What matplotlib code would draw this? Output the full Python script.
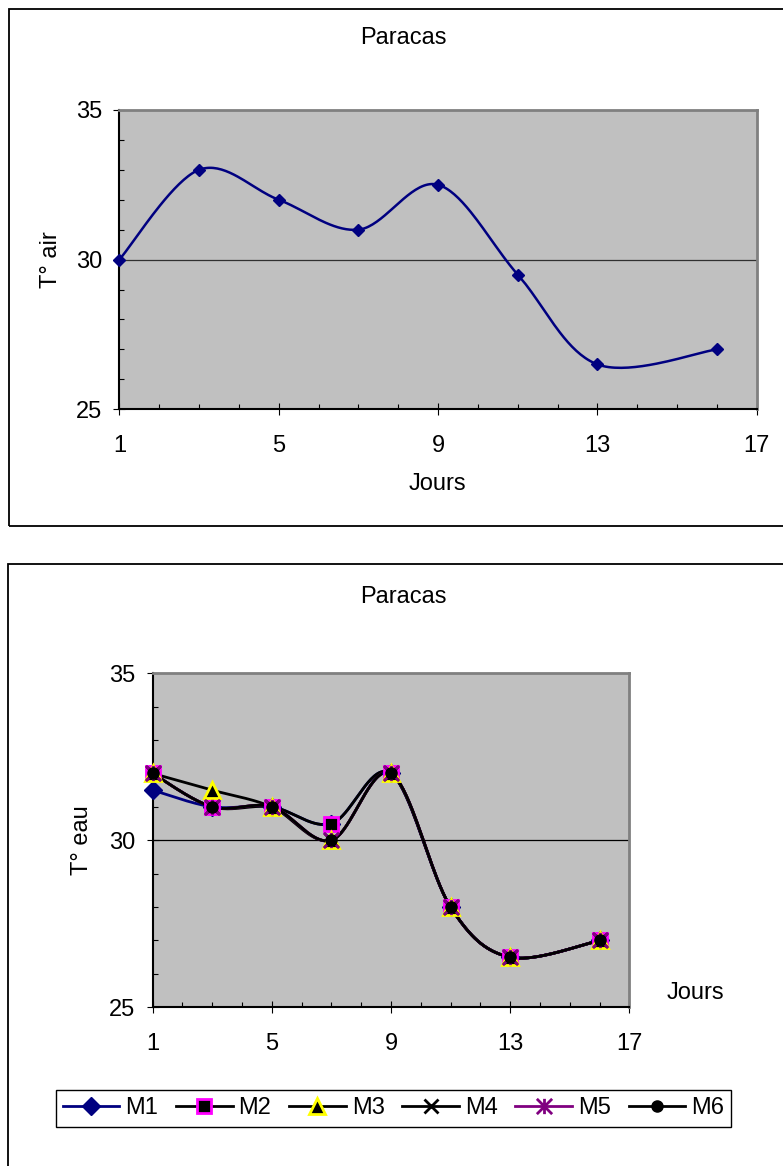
import numpy as np
import matplotlib
matplotlib.use("Agg")
import matplotlib.pyplot as plt
from matplotlib.lines import Line2D
from matplotlib.patches import Rectangle
from matplotlib.path import Path
from matplotlib.ticker import MultipleLocator

plt.rcParams["font.family"] = ["Liberation Sans", "DejaVu Sans"]
plt.rcParams["font.size"] = 17

# data
days = [1, 3, 5, 7, 9, 11, 13, 16]
t_air = [30, 33, 32, 31, 32.5, 29.5, 26.5, 27]
m1 = [31.5, 31, 31, 30.5, 32, 28, 26.5, 27]
m2 = [32, 31, 31, 30.5, 32, 28, 26.5, 27]
m3 = [32, 31.5, 31, 30, 32, 28, 26.5, 27]
m4 = [32, 31, 31, 30, 32, 28, 26.5, 27]
m5 = [32, 31, 31, 30, 32, 28, 26.5, 27]
m6 = [32, 31, 31, 30, 32, 28, 26.5, 27]
series_names = ["M1", "M2", "M3", "M4", "M5", "M6"]
series_values = [m1, m2, m3, m4, m5, m6]
x_ticks = [1, 5, 9, 13, 17]
y_ticks = [25, 30, 35]

GRAY = "#c0c0c0"
NAVY = "#000080"
PURPLE = "#800080"
FS = 17

# asterisk marker like Excel's "star"
ASTERISK = Path(
    [(-1, -1), (1, 1), (-1, 1), (1, -1), (0, -1), (0, 1)],
    [Path.MOVETO, Path.LINETO, Path.MOVETO, Path.LINETO, Path.MOVETO, Path.LINETO],
)

styles = [
    dict(color=NAVY, marker="D", ms=9, mfc=NAVY, mec=NAVY, mew=1),
    dict(color="black", marker="s", ms=10, mfc="black", mec="#ff00ff", mew=2),
    dict(color="black", marker="^", ms=11, mfc="black", mec="#ffff00", mew=2),
    dict(color="black", marker="x", ms=10, mfc="black", mec="black", mew=2),
    dict(color=PURPLE, marker=ASTERISK, ms=11, mfc="none", mec=PURPLE, mew=2),
    dict(color="black", marker="o", ms=8, mfc="black", mec="black", mew=1),
]


def excel_smooth(xs, ys, n=40):
    pts = np.column_stack([xs, ys]).astype(float)
    out = [pts[0]]
    t = np.linspace(0, 1, n)[1:, None]
    for i in range(len(pts) - 1):
        p0 = pts[i - 1] if i > 0 else pts[i]
        p1, p2 = pts[i], pts[i + 1]
        p3 = pts[i + 2] if i + 2 < len(pts) else pts[i + 1]
        c1 = p1 + (p2 - p0) / 6
        c2 = p2 - (p3 - p1) / 6
        seg = (1 - t) ** 3 * p1 + 3 * (1 - t) ** 2 * t * c1 + 3 * (1 - t) * t ** 2 * c2 + t ** 3 * p2
        out.extend(seg)
    return np.array(out)


def style_axes(ax, grid_color):
    ax.set_facecolor(GRAY)
    ax.set_xlim(1, 17)
    ax.set_ylim(25, 35)
    ax.set_xticks(x_ticks)
    ax.set_yticks(y_ticks)
    ax.xaxis.set_minor_locator(MultipleLocator(1))
    ax.yaxis.set_minor_locator(MultipleLocator(1))
    ax.tick_params(which="major", direction="inout", length=9, width=0.8, color="black", labelsize=FS)
    ax.tick_params(axis="x", which="major", pad=14)
    ax.tick_params(axis="y", which="major", pad=8)
    ax.tick_params(which="minor", direction="in", length=3.6, width=0.8, color="black")
    for side in ("left", "bottom"):
        ax.spines[side].set_color("black")
        ax.spines[side].set_linewidth(1.5)
    for side in ("top", "right"):
        ax.spines[side].set_color("#808080")
        ax.spines[side].set_linewidth(2)
    ax.axhline(30, color=grid_color, lw=0.9, zorder=1)


def px(x, y):
    return x / 783, 1 - y / 1166


fig = plt.figure(figsize=(7.83, 11.66), dpi=100)

# outer frames (right / bottom edges fall outside the canvas)
fig.patches.append(Rectangle((0.0115, 0.5489), 1.2, 0.4434, transform=fig.transFigure,
                             fill=False, edgecolor="black", lw=1.3))
fig.patches.append(Rectangle((0.0107, -0.1), 1.2, 0.6166, transform=fig.transFigure,
                             fill=False, edgecolor="black", lw=1.3))

# top chart: air temperature
ax1 = fig.add_axes([0.1524, 0.6490, 0.8141, 0.2567])
style_axes(ax1, "#303030")
curve = excel_smooth(days, t_air)
ax1.plot(curve[:, 0], curve[:, 1], color=NAVY, lw=1.8, zorder=2)
ax1.plot(days, t_air, linestyle="none", marker="D", ms=6.5, color=NAVY, zorder=3, clip_on=False)
fig.text(*px(403, 38), "Paracas", ha="center", va="center", fontsize=FS)
fig.text(*px(437, 484), "Jours", ha="center", va="center", fontsize=FS)
fig.text(*px(51, 260), "T° air", ha="center", va="center", rotation=90, fontsize=FS)

# bottom chart: water temperature
ax2 = fig.add_axes([0.1950, 0.1361, 0.6087, 0.2865])
style_axes(ax2, "black")
handles = []
for name, vals, st in zip(series_names, series_values, styles):
    curve = excel_smooth(days, vals)
    ax2.plot(curve[:, 0], curve[:, 1], color=st["color"], lw=2, zorder=2)
    ax2.plot(days, vals, linestyle="none", marker=st["marker"], ms=st["ms"],
             mfc=st["mfc"], mec=st["mec"], mew=st["mew"], zorder=3, clip_on=False)
    handles.append(Line2D([], [], color=st["color"], lw=2, marker=st["marker"], ms=st["ms"],
                          mfc=st["mfc"], mec=st["mec"], mew=st["mew"]))
fig.text(*px(403, 597), "Paracas", ha="center", va="center", fontsize=FS)
fig.text(*px(695, 993), "Jours", ha="center", va="center", fontsize=FS)
fig.text(*px(82, 840), "T° eau", ha="center", va="center", rotation=90, fontsize=FS)

leg = fig.legend(handles, series_names, loc="center", bbox_to_anchor=px(393.5, 1108.5),
                 ncol=6, frameon=True, fancybox=False, edgecolor="black", framealpha=1,
                 handlelength=2.4, handletextpad=0.25, columnspacing=0.75,
                 borderpad=0.3, borderaxespad=0, fontsize=FS)
leg.get_frame().set_linewidth(1.0)

fig.savefig("out.png", dpi=100)
